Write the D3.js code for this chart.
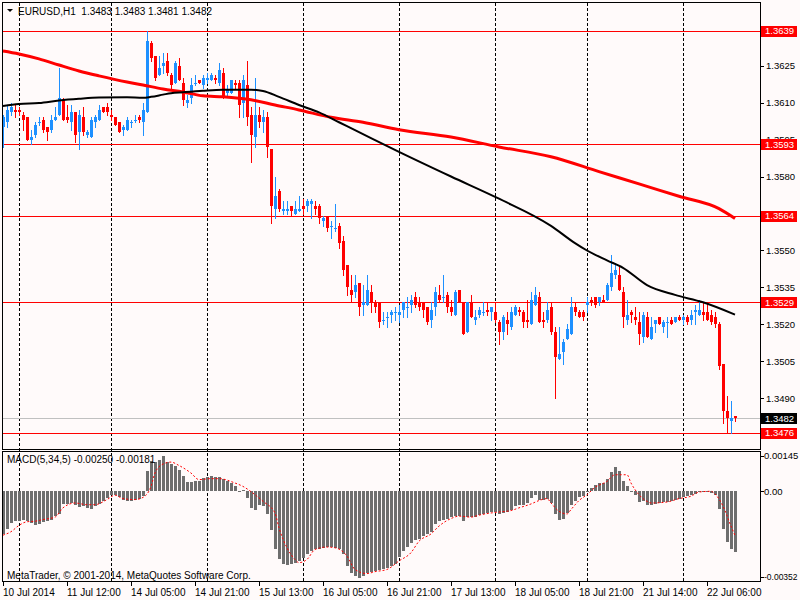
<!DOCTYPE html>
<html>
<head>
<meta charset="utf-8">
<script src="https://d3js.org/d3.v7.min.js"></script>
<style>
  body { margin: 0; background: #fffafa; }
  svg text { font-family: "Liberation Sans", Arial, sans-serif; font-size: 10px; white-space: pre; }
  svg text.axis { font-size: 9.5px; }
</style>
</head>
<body>
<div id="chart"></div>
<script>
// EURUSD H1 bars, 10 Jul 20:00 .. 22 Jul 13:00 : open, high, low, close
var candles = [
  [1.3600,1.3605,1.3592,1.3604],[1.3602,1.3609,1.3600,1.3607],[1.3606,1.3610,1.3605,1.3608],[1.3607,1.3609,1.3604,1.3606],
  [1.3607,1.3608,1.3605,1.3606],[1.3605,1.3606,1.3599,1.3603],[1.3604,1.3604,1.3595,1.3595],[1.3595,1.3599,1.3593,1.3596],
  [1.3597,1.3602,1.3596,1.3601],[1.3602,1.3604,1.3601,1.3602],[1.3603,1.3604,1.3598,1.3599],[1.3600,1.3600,1.3595,1.3598],
  [1.3599,1.3605,1.3598,1.3603],[1.3603,1.3608,1.3603,1.3604],[1.3605,1.3624,1.3605,1.3612],[1.3611,1.3612,1.3603,1.3603],
  [1.3604,1.3609,1.3602,1.3603],[1.3602,1.3609,1.3599,1.3606],[1.3606,1.3606,1.3594,1.3597],[1.3598,1.3607,1.3591,1.3605],
  [1.3604,1.3608,1.3597,1.3598],[1.3597,1.3599,1.3596,1.3598],[1.3596,1.3604,1.3596,1.3603],[1.3602,1.3605,1.3600,1.3604],
  [1.3603,1.3609,1.3603,1.3607],[1.3608,1.3608,1.3606,1.3606],[1.3608,1.3610,1.3605,1.3606],[1.3605,1.3607,1.3603,1.3604],
  [1.3604,1.3604,1.3601,1.3601],[1.3602,1.3602,1.3598,1.3598],[1.3599,1.3601,1.3597,1.3600],[1.3599,1.3604,1.3599,1.3603],
  [1.3602,1.3603,1.3600,1.3602],[1.3603,1.3605,1.3602,1.3603],[1.3604,1.3605,1.3602,1.3603],[1.3602,1.3610,1.3597,1.3607],
  [1.3606,1.3639,1.3606,1.3635],[1.3634,1.3635,1.3627,1.3628],[1.3629,1.3629,1.3619,1.3620],[1.3621,1.3629,1.3621,1.3624],
  [1.3625,1.3630,1.3622,1.3626],[1.3627,1.3630,1.3621,1.3622],[1.3621,1.3622,1.3616,1.3617],[1.3618,1.3627,1.3618,1.3626],
  [1.3625,1.3628,1.3619,1.3619],[1.3618,1.3620,1.3609,1.3611],[1.3610,1.3613,1.3608,1.3611],[1.3612,1.3620,1.3610,1.3617],
  [1.3618,1.3621,1.3617,1.3618],[1.3619,1.3619,1.3618,1.3618],[1.3617,1.3621,1.3616,1.3620],[1.3619,1.3622,1.3618,1.3620],
  [1.3619,1.3622,1.3619,1.3621],[1.3620,1.3621,1.3618,1.3619],[1.3618,1.3626,1.3617,1.3623],[1.3622,1.3624,1.3612,1.3612],
  [1.3614,1.3617,1.3613,1.3615],[1.3614,1.3619,1.3614,1.3619],[1.3618,1.3619,1.3616,1.3617],[1.3618,1.3619,1.3604,1.3609],
  [1.3610,1.3621,1.3604,1.3619],[1.3617,1.3627,1.3601,1.3604],[1.3605,1.3608,1.3586,1.3597],[1.3596,1.3620,1.3592,1.3605],
  [1.3605,1.3608,1.3600,1.3602],[1.3602,1.3607,1.3598,1.3604],[1.3604,1.3606,1.3588,1.3592],[1.3591,1.3591,1.3561,1.3568],
  [1.3567,1.3580,1.3563,1.3572],[1.3574,1.3575,1.3566,1.3567],[1.3566,1.3570,1.3565,1.3567],[1.3566,1.3570,1.3565,1.3567],
  [1.3568,1.3568,1.3564,1.3566],[1.3565,1.3570,1.3565,1.3567],[1.3566,1.3572,1.3566,1.3567],[1.3568,1.3571,1.3565,1.3567],
  [1.3568,1.3571,1.3566,1.3570],[1.3569,1.3571,1.3563,1.3570],[1.3568,1.3570,1.3565,1.3567],[1.3568,1.3569,1.3561,1.3563],
  [1.3562,1.3564,1.3560,1.3563],[1.3564,1.3564,1.3558,1.3559],[1.3560,1.3562,1.3555,1.3560],[1.3559,1.3569,1.3558,1.3559],
  [1.3560,1.3561,1.3551,1.3553],[1.3554,1.3556,1.3540,1.3542],[1.3544,1.3544,1.3532,1.3535],[1.3534,1.3540,1.3529,1.3532],
  [1.3533,1.3540,1.3531,1.3536],[1.3537,1.3537,1.3524,1.3527],[1.3528,1.3536,1.3524,1.3529],[1.3528,1.3540,1.3528,1.3534],
  [1.3533,1.3536,1.3525,1.3529],[1.3529,1.3530,1.3525,1.3527],[1.3529,1.3529,1.3519,1.3521],[1.3522,1.3525,1.3520,1.3522],
  [1.3523,1.3525,1.3519,1.3523],[1.3524,1.3526,1.3521,1.3525],[1.3525,1.3527,1.3522,1.3525],[1.3524,1.3528,1.3521,1.3525],
  [1.3526,1.3529,1.3523,1.3529],[1.3527,1.3531,1.3523,1.3527],[1.3528,1.3532,1.3525,1.3530],[1.3531,1.3533,1.3527,1.3528],
  [1.3529,1.3531,1.3526,1.3527],[1.3529,1.3529,1.3523,1.3526],[1.3527,1.3527,1.3520,1.3521],[1.3522,1.3529,1.3519,1.3526],
  [1.3527,1.3535,1.3524,1.3533],[1.3532,1.3536,1.3529,1.3530],[1.3531,1.3540,1.3529,1.3531],[1.3532,1.3533,1.3525,1.3527],
  [1.3527,1.3530,1.3524,1.3525],[1.3524,1.3534,1.3524,1.3533],[1.3534,1.3534,1.3529,1.3529],[1.3529,1.3529,1.3516,1.3516],
  [1.3517,1.3529,1.3517,1.3529],[1.3529,1.3532,1.3523,1.3523],[1.3522,1.3526,1.3520,1.3523],[1.3524,1.3527,1.3523,1.3526],
  [1.3525,1.3529,1.3524,1.3525],[1.3526,1.3529,1.3524,1.3525],[1.3525,1.3527,1.3522,1.3527],[1.3525,1.3529,1.3521,1.3522],
  [1.3521,1.3522,1.3512,1.3517],[1.3517,1.3524,1.3514,1.3523],[1.3522,1.3525,1.3516,1.3520],[1.3519,1.3527,1.3518,1.3525],
  [1.3524,1.3528,1.3524,1.3527],[1.3526,1.3527,1.3524,1.3525],[1.3525,1.3526,1.3519,1.3521],[1.3522,1.3530,1.3519,1.3521],
  [1.3520,1.3533,1.3520,1.3530],[1.3528,1.3535,1.3528,1.3532],[1.3531,1.3533,1.3521,1.3521],[1.3522,1.3525,1.3519,1.3521],
  [1.3522,1.3529,1.3521,1.3526],[1.3527,1.3529,1.3516,1.3517],[1.3517,1.3519,1.3490,1.3507],[1.3506,1.3519,1.3506,1.3508],
  [1.3509,1.3514,1.3504,1.3513],[1.3514,1.3520,1.3514,1.3518],[1.3516,1.3531,1.3516,1.3527],[1.3527,1.3529,1.3524,1.3525],
  [1.3525,1.3526,1.3523,1.3523],[1.3525,1.3526,1.3522,1.3523],[1.3528,1.3531,1.3525,1.3529],[1.3530,1.3531,1.3528,1.3529],
  [1.3531,1.3531,1.3527,1.3528],[1.3529,1.3531,1.3528,1.3531],[1.3530,1.3532,1.3529,1.3529],[1.3530,1.3537,1.3530,1.3536],
  [1.3535,1.3548,1.3534,1.3541],[1.3540,1.3545,1.3539,1.3542],[1.3540,1.3544,1.3534,1.3534],[1.3533,1.3535,1.3519,1.3523],
  [1.3522,1.3530,1.3520,1.3524],[1.3525,1.3526,1.3521,1.3524],[1.3523,1.3527,1.3520,1.3522],[1.3521,1.3525,1.3512,1.3516],
  [1.3515,1.3525,1.3513,1.3524],[1.3523,1.3525,1.3515,1.3515],[1.3514,1.3523,1.3514,1.3519],[1.3520,1.3522,1.3517,1.3522],
  [1.3523,1.3523,1.3520,1.3520],[1.3519,1.3522,1.3517,1.3521],[1.3521,1.3523,1.3515,1.3521],[1.3522,1.3523,1.3520,1.3520],
  [1.3521,1.3523,1.3521,1.3523],[1.3523,1.3524,1.3522,1.3522],[1.3522,1.3524,1.3520,1.3523],[1.3523,1.3524,1.3520,1.3521],
  [1.3522,1.3526,1.3520,1.3524],[1.3525,1.3528,1.3520,1.3526],[1.3524,1.3530,1.3524,1.3526],[1.3525,1.3529,1.3522,1.3524],
  [1.3525,1.3529,1.3522,1.3522],[1.3524,1.3526,1.3520,1.3521],[1.3523,1.3525,1.3519,1.3520],[1.3520,1.3521,1.3502,1.3503],
  [1.3504,1.3504,1.3480,1.3485],[1.3485,1.3491,1.3476,1.3482],[1.3481,1.3489,1.3476,1.3482],[1.3483,1.3483,1.3481,1.3482]
];

// moving averages read at some bars: [bar, price]
var maSlow = [[0,1.36309],[4,1.36297],[9,1.36277],[14,1.36252],[19,1.36228],[24,1.36208],[31,1.36183],[35,1.36171],
  [40,1.36155],[45,1.36143],[50,1.36127],[55,1.36123],[62,1.36111],[68,1.3609],[74,1.3607],[82,1.3604],[90,1.3602],
  [99,1.3599],[112,1.3596],[124,1.3592],[137,1.3588],[149,1.3582],[159,1.3577],[169,1.3572],[179,1.3567],[183,1.3563]];
var maFast = [[0,1.36086],[4,1.36094],[9,1.36098],[14,1.36108],[19,1.36115],[24,1.3612],[31,1.36121],[35,1.36119],
  [37,1.36123],[40,1.36132],[42,1.36138],[45,1.36142],[50,1.36148],[55,1.36152],[62,1.36152],[65,1.36147],[69,1.36123],
  [74,1.3609],[79,1.3606],[84,1.3602],[89,1.3598],[99,1.3590],[112,1.3580],[124,1.3571],[137,1.3560],[143,1.3553],
  [146,1.3550],[151,1.3546],[155,1.3543],[161,1.3536],[168,1.3532],[175,1.3529],[183,1.3524]];

// MACD(5,34,5) main histogram, one per bar, in 0.00001
var macdMain = [-175,-153,-130,-123,-120,-116,-120,-130,-139,-134,-125,-123,-116,-102,-93,-52,-52,-48,-55,-65,
  -61,-68,-74,-61,-52,-38,-27,-16,-14,-25,-34,-41,-38,-34,-30,-20,85,123,120,130,
  145,120,112,102,89,61,38,38,41,44,55,57,61,59,57,52,44,34,20,-3,
  7,-27,-68,-75,-55,-61,-95,-157,-239,-280,-297,-303,-300,-293,-286,-273,-259,-246,-239,-235,
  -232,-229,-229,-232,-239,-259,-307,-334,-348,-355,-348,-334,-330,-327,-325,-321,-316,-307,-300,-270,
  -245,-229,-211,-202,-194,-184,-177,-166,-136,-123,-116,-112,-106,-102,-102,-123,-106,-106,-104,-98,
  -93,-89,-85,-85,-93,-89,-85,-75,-61,-57,-55,-48,-27,-14,-34,-34,-30,-48,-93,-116,
  -112,-89,-55,-38,-25,-20,-1,14,25,33,35,52,79,98,85,44,20,3,-16,-44,
  -38,-55,-55,-52,-46,-45,-43,-41,-37,-30,-25,-20,-16,-10,-1,3,-1,-7,-14,-72,
  -155,-210,-235,-250];
// signal line read at some bars: [bar, value in 0.00001]
var macdSignal = [[0,-180],[2,-166],[4,-140],[6,-125],[8,-123],[10,-116],[13,-106],[15,-68],[18,-48],[21,-55],
  [23,-55],[26,-34],[28,-16],[30,-30],[33,-34],[35,-25],[37,20],[38,75],[40,112],[42,120],[44,106],[47,75],
  [49,48],[52,52],[54,52],[58,34],[60,20],[63,-14],[65,-41],[68,-89],[69,-150],[71,-232],[73,-280],[74,-293],
  [76,-280],[78,-239],[81,-229],[83,-232],[86,-266],[88,-321],[91,-338],[93,-330],[96,-321],[99,-286],[102,-252],
  [104,-205],[107,-175],[109,-143],[112,-112],[114,-102],[117,-106],[119,-98],[122,-89],[124,-85],[127,-79],
  [129,-68],[132,-52],[134,-38],[136,-30],[137,-48],[139,-82],[141,-93],[142,-75],[144,-38],[146,-14],[148,16],
  [151,41],[153,68],[156,68],[157,34],[159,-14],[161,-41],[162,-48],[166,-44],[169,-30],[172,-20],[174,-3],
  [177,0],[178,-11],[180,-61],[182,-143],[183,-181]];

var timeLabels = ["10 Jul 2014","11 Jul 12:00","14 Jul 05:00","14 Jul 21:00","15 Jul 13:00","16 Jul 05:00",
  "16 Jul 21:00","17 Jul 13:00","18 Jul 05:00","18 Jul 21:00","21 Jul 14:00","22 Jul 06:00"];
var timeLabelBars = [0,16,32,48,64,80,96,112,128,144,160,176];
var dayStartBars = [4,27,51,75,99,123,146,170];
var priceTicks = [1.3640,1.3625,1.3610,1.3595,1.3580,1.3565,1.3550,1.3535,1.3520,1.3505,1.3490,1.3475];
var levels = [1.3639,1.3593,1.3564,1.3529,1.3476];
var bid = 1.3482;
var macdTicks = [0.00145,0,-0.00352];
var macdTickLabels = ["0.00145","0.00","-0.00352"];
var title = "EURUSD,H1  1.3483 1.3483 1.3481 1.3482";
var macdTitle = "MACD(5,34,5) -0.00250 -0.00181";

var W = 800, H = 600,
  bull = '#1e90ff', bear = '#ff0000';

var svg = d3.select('#chart').append('svg')
  .attr('width', W).attr('height', H);

svg.append('rect').attr('width', W).attr('height', H).attr('fill', '#fffafa');

var x = d3.scaleLinear().domain([0, candles.length - 1]).range([3, 735]);
var y = d3.scaleLinear().domain([1.3476, 1.3639]).range([433, 31]);
var ym = d3.scaleLinear().domain([-0.00352, 0.00145]).range([577, 456]);

function px(v) { return Math.round(v); }

// day separators
svg.selectAll('.vgrid')
  .data(dayStartBars).enter()
  .append('line')
  .attr('x1', function (d) { return px(x(d)) + 0.5 })
  .attr('x2', function (d) { return px(x(d)) + 0.5 })
  .attr('y1', 3).attr('y2', 581)
  .attr('stroke', '#000').attr('stroke-dasharray', '3,2');

// horizontal levels and bid
svg.selectAll('.level')
  .data(levels).enter()
  .append('line')
  .attr('x1', 3).attr('x2', 760)
  .attr('y1', function (d) { return px(y(d)) + 0.5 })
  .attr('y2', function (d) { return px(y(d)) + 0.5 })
  .attr('stroke', '#ff0000');

svg.append('line')
  .attr('x1', 3).attr('x2', 760)
  .attr('y1', px(y(bid)) + 0.5).attr('y2', px(y(bid)) + 0.5)
  .attr('stroke', '#c0c0c0');

// candles
var bars = svg.append('g');
bars.selectAll('.wick')
  .data(candles).enter()
  .append('line')
  .attr('x1', function (d, i) { return px(x(i)) + 0.5 })
  .attr('x2', function (d, i) { return px(x(i)) + 0.5 })
  .attr('y1', function (d) { return px(y(d[1])) })
  .attr('y2', function (d) { return px(y(d[2])) + 1 })
  .attr('stroke', function (d) { return d[3] >= d[0] ? bull : bear });

bars.selectAll('.body')
  .data(candles).enter()
  .append('rect')
  .attr('x', function (d, i) { return px(x(i)) - 1 })
  .attr('width', 3)
  .attr('y', function (d) { return px(y(Math.max(d[0], d[3]))) })
  .attr('height', function (d) {
    return Math.max(1, px(y(Math.min(d[0], d[3]))) - px(y(Math.max(d[0], d[3]))));
  })
  .attr('fill', function (d) { return d[3] >= d[0] ? bull : bear });

// moving averages
var maLine = d3.line()
  .x(function (d) { return x(d[0]) })
  .y(function (d) { return y(d[1]) })
  .curve(d3.curveMonotoneX);

svg.append('path').attr('d', maLine(maSlow))
  .attr('fill', 'none').attr('stroke', '#ff0000').attr('stroke-width', 3);
svg.append('path').attr('d', maLine(maFast))
  .attr('fill', 'none').attr('stroke', '#000').attr('stroke-width', 2);

// MACD histogram
var zero = px(ym(0));
svg.selectAll('.hist')
  .data(macdMain).enter()
  .append('rect')
  .attr('x', function (d, i) { return px(x(i)) - 1 })
  .attr('width', 3)
  .attr('y', function (d) { return d >= 0 ? px(ym(d / 1e5)) : zero })
  .attr('height', function (d) { return Math.max(1, Math.abs(zero - px(ym(d / 1e5)))) })
  .attr('fill', '#6e6e6e');

var sigLine = d3.line()
  .x(function (d) { return x(d[0]) })
  .y(function (d) { return ym(d[1] / 1e5) })
  .curve(d3.curveMonotoneX);
svg.append('path').attr('d', sigLine(macdSignal))
  .attr('fill', 'none').attr('stroke', '#ff0000').attr('stroke-width', 1)
  .attr('stroke-dasharray', '2,2');

// panel frames
svg.append('rect').attr('x', 2.5).attr('y', 2.5).attr('width', 758).attr('height', 447)
  .attr('fill', 'none').attr('stroke', '#000');
svg.append('rect').attr('x', 2.5).attr('y', 451.5).attr('width', 758).attr('height', 130)
  .attr('fill', 'none').attr('stroke', '#000');

// price axis; labels sitting right under a level tag are left out
var freeTicks = priceTicks.filter(function (t) {
  return !levels.some(function (l) { return Math.abs(y(l) - y(t)) < 4 });
});
svg.selectAll('.ptick')
  .data(priceTicks).enter()
  .append('line')
  .attr('x1', 760).attr('x2', 764)
  .attr('y1', function (d) { return px(y(d)) + 0.5 })
  .attr('y2', function (d) { return px(y(d)) + 0.5 })
  .attr('stroke', '#000');
svg.selectAll('.plabel')
  .data(freeTicks).enter()
  .append('text')
  .attr('class', 'axis')
  .attr('x', 766)
  .attr('y', function (d) { return y(d) })
  .attr('dy', '0.35em')
  .text(function (d) { return d.toFixed(4) });

function tag(value, fill) {
  var g = svg.append('g');
  g.append('rect').attr('x', 761).attr('y', px(y(value)) - 5)
    .attr('width', 36).attr('height', 11).attr('fill', fill);
  g.append('text').attr('class', 'axis').attr('x', 765).attr('y', y(value)).attr('dy', '0.35em')
    .attr('fill', '#fff').text(value.toFixed(4));
}
levels.forEach(function (d) { tag(d, '#ff0000') });
tag(bid, '#000');

// MACD axis
svg.selectAll('.mtick')
  .data(macdTicks).enter()
  .append('line')
  .attr('x1', 760).attr('x2', 764)
  .attr('y1', function (d) { return px(ym(d)) + 0.5 })
  .attr('y2', function (d) { return px(ym(d)) + 0.5 })
  .attr('stroke', '#000');
svg.selectAll('.mlabel')
  .data(macdTicks).enter()
  .append('text')
  .attr('class', 'axis')
  .attr('x', 764)
  .attr('y', function (d) { return ym(d) })
  .attr('dy', '0.35em')
  .style('font-size', function (d, i) { return macdTickLabels[i].length > 7 ? '8.5px' : null })
  .text(function (d, i) { return macdTickLabels[i] });

// time axis
svg.selectAll('.ttick')
  .data(timeLabelBars).enter()
  .append('line')
  .attr('x1', function (d) { return px(x(d)) + 0.5 })
  .attr('x2', function (d) { return px(x(d)) + 0.5 })
  .attr('y1', 582).attr('y2', 586)
  .attr('stroke', '#000');
svg.selectAll('.tlabel')
  .data(timeLabelBars).enter()
  .append('text')
  .attr('x', function (d) { return px(x(d)) })
  .attr('y', 596)
  .text(function (d, i) { return timeLabels[i] });

// titles
svg.append('path').attr('d', 'M7,9 L13,9 L10,12 Z').attr('fill', '#000');
svg.append('text').attr('x', 18).attr('y', 15).text(title);
svg.append('text').attr('x', 7).attr('y', 463).text(macdTitle);
svg.append('text').attr('x', 7).attr('y', 579).text('MetaTrader, \u00a9 2001-2014, MetaQuotes Software Corp.');
</script>
</body>
</html>
